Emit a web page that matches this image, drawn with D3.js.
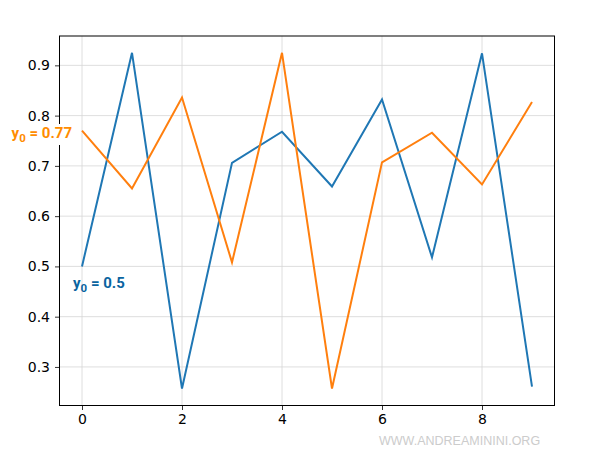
<!DOCTYPE html>
<html>
<head>
<meta charset="utf-8">
<script src="https://cdn.jsdelivr.net/npm/d3@7"></script>
<style>
  body { margin: 0; background: #fff; }
  svg { display: block; }
</style>
</head>
<body>
<div id="chart"></div>
<script>
// iteration index
const steps = [0, 1, 2, 3, 4, 5, 6, 7, 8, 9];
// series
const seriesA = [0.5, 0.925, 0.257, 0.706, 0.768, 0.659, 0.832, 0.518, 0.924, 0.261];
const seriesB = [0.77, 0.655, 0.836, 0.508, 0.925, 0.257, 0.707, 0.766, 0.663, 0.827];
const xTicks = [0, 2, 4, 6, 8];
const yTicks = [0.3, 0.4, 0.5, 0.6, 0.7, 0.8, 0.9];

const W = 600, H = 460;
const PLOT = { LEFT: 59.5, RIGHT: 554.5, TOP: 36, BOTTOM: 405.5 };

const svg = d3.select("#chart").append("svg")
  .attr("width", W)
  .attr("height", H);

const x = d3.scaleLinear().domain([-0.45, 9.45]).range([PLOT.LEFT, PLOT.RIGHT]);
const y = d3.scaleLinear().domain([0.2233, 0.9584]).range([PLOT.BOTTOM, PLOT.TOP]);

// grid
svg.append("g").selectAll("line.gx")
  .data(xTicks).enter().append("line")
  .attr("x1", d => x(d)).attr("x2", d => x(d))
  .attr("y1", PLOT.TOP).attr("y2", PLOT.BOTTOM)
  .attr("stroke", "#d6d6d6").attr("stroke-width", 0.8);

svg.append("g").selectAll("line.gy")
  .data(yTicks).enter().append("line")
  .attr("y1", d => y(d)).attr("y2", d => y(d))
  .attr("x1", PLOT.LEFT).attr("x2", PLOT.RIGHT)
  .attr("stroke", "#d6d6d6").attr("stroke-width", 0.8);

// axes
const xAxis = svg.append("g")
  .attr("transform", `translate(0,${PLOT.BOTTOM})`)
  .call(d3.axisBottom(x).tickValues(xTicks).tickFormat(d3.format("d")).tickSize(4.5).tickPadding(4));
const yAxis = svg.append("g")
  .attr("transform", `translate(${PLOT.LEFT},0)`)
  .call(d3.axisLeft(y).tickValues(yTicks).tickFormat(d3.format(".1f")).tickSize(4.5).tickPadding(5));

[xAxis, yAxis].forEach(g => {
  g.select(".domain").remove();
  g.selectAll("line").attr("stroke", "#000").attr("stroke-width", 0.8);
  g.selectAll("text")
    .attr("font-family", "DejaVu Sans")
    .attr("font-size", 14)
    .attr("fill", "#000");
});

// lines
const line = d3.line().x((d, i) => x(steps[i])).y(d => y(d));

svg.append("path").datum(seriesA)
  .attr("d", line)
  .attr("fill", "none")
  .attr("stroke", "#1f77b4")
  .attr("stroke-width", 2);

svg.append("path").datum(seriesB)
  .attr("d", line)
  .attr("fill", "none")
  .attr("stroke", "#ff7f0e")
  .attr("stroke-width", 2);

// frame
svg.append("rect")
  .attr("x", PLOT.LEFT).attr("y", PLOT.TOP)
  .attr("width", PLOT.RIGHT - PLOT.LEFT)
  .attr("height", PLOT.BOTTOM - PLOT.TOP)
  .attr("fill", "none")
  .attr("stroke", "#000")
  .attr("stroke-width", 1);

// annotations
function label(txt, val, xpos, ypos, color, anchor, bg) {
  const g = svg.append("g");
  const t = g.append("text")
    .attr("x", xpos).attr("y", ypos)
    .attr("text-anchor", anchor)
    .attr("font-family", "Roboto")
    .attr("font-weight", "bold")
    .attr("font-size", 15)
    .attr("fill", color);
  t.append("tspan").text(txt);
  t.append("tspan").attr("font-size", 11.5).attr("dy", 4).text("0");
  t.append("tspan").attr("dy", -4).text(" = " + val);
  if (bg) {
    const b = t.node().getBBox();
    g.insert("rect", "text")
      .attr("x", b.x - 1).attr("y", b.y)
      .attr("width", b.width + 2).attr("height", b.height)
      .attr("fill", "#fff");
  }
}
label("y", seriesB[0], 72, 138, "#ff8c00", "end", true);
label("y", seriesA[0], 73, 288, "#0a64a0", "start", false);

// watermark
svg.append("text")
  .attr("x", 379).attr("y", 445)
  .attr("font-family", "Liberation Sans")
  .attr("font-size", 12.5)
  .attr("fill", "#cccccc")
  .text("WWW.ANDREAMININI.ORG");
</script>
</body>
</html>
